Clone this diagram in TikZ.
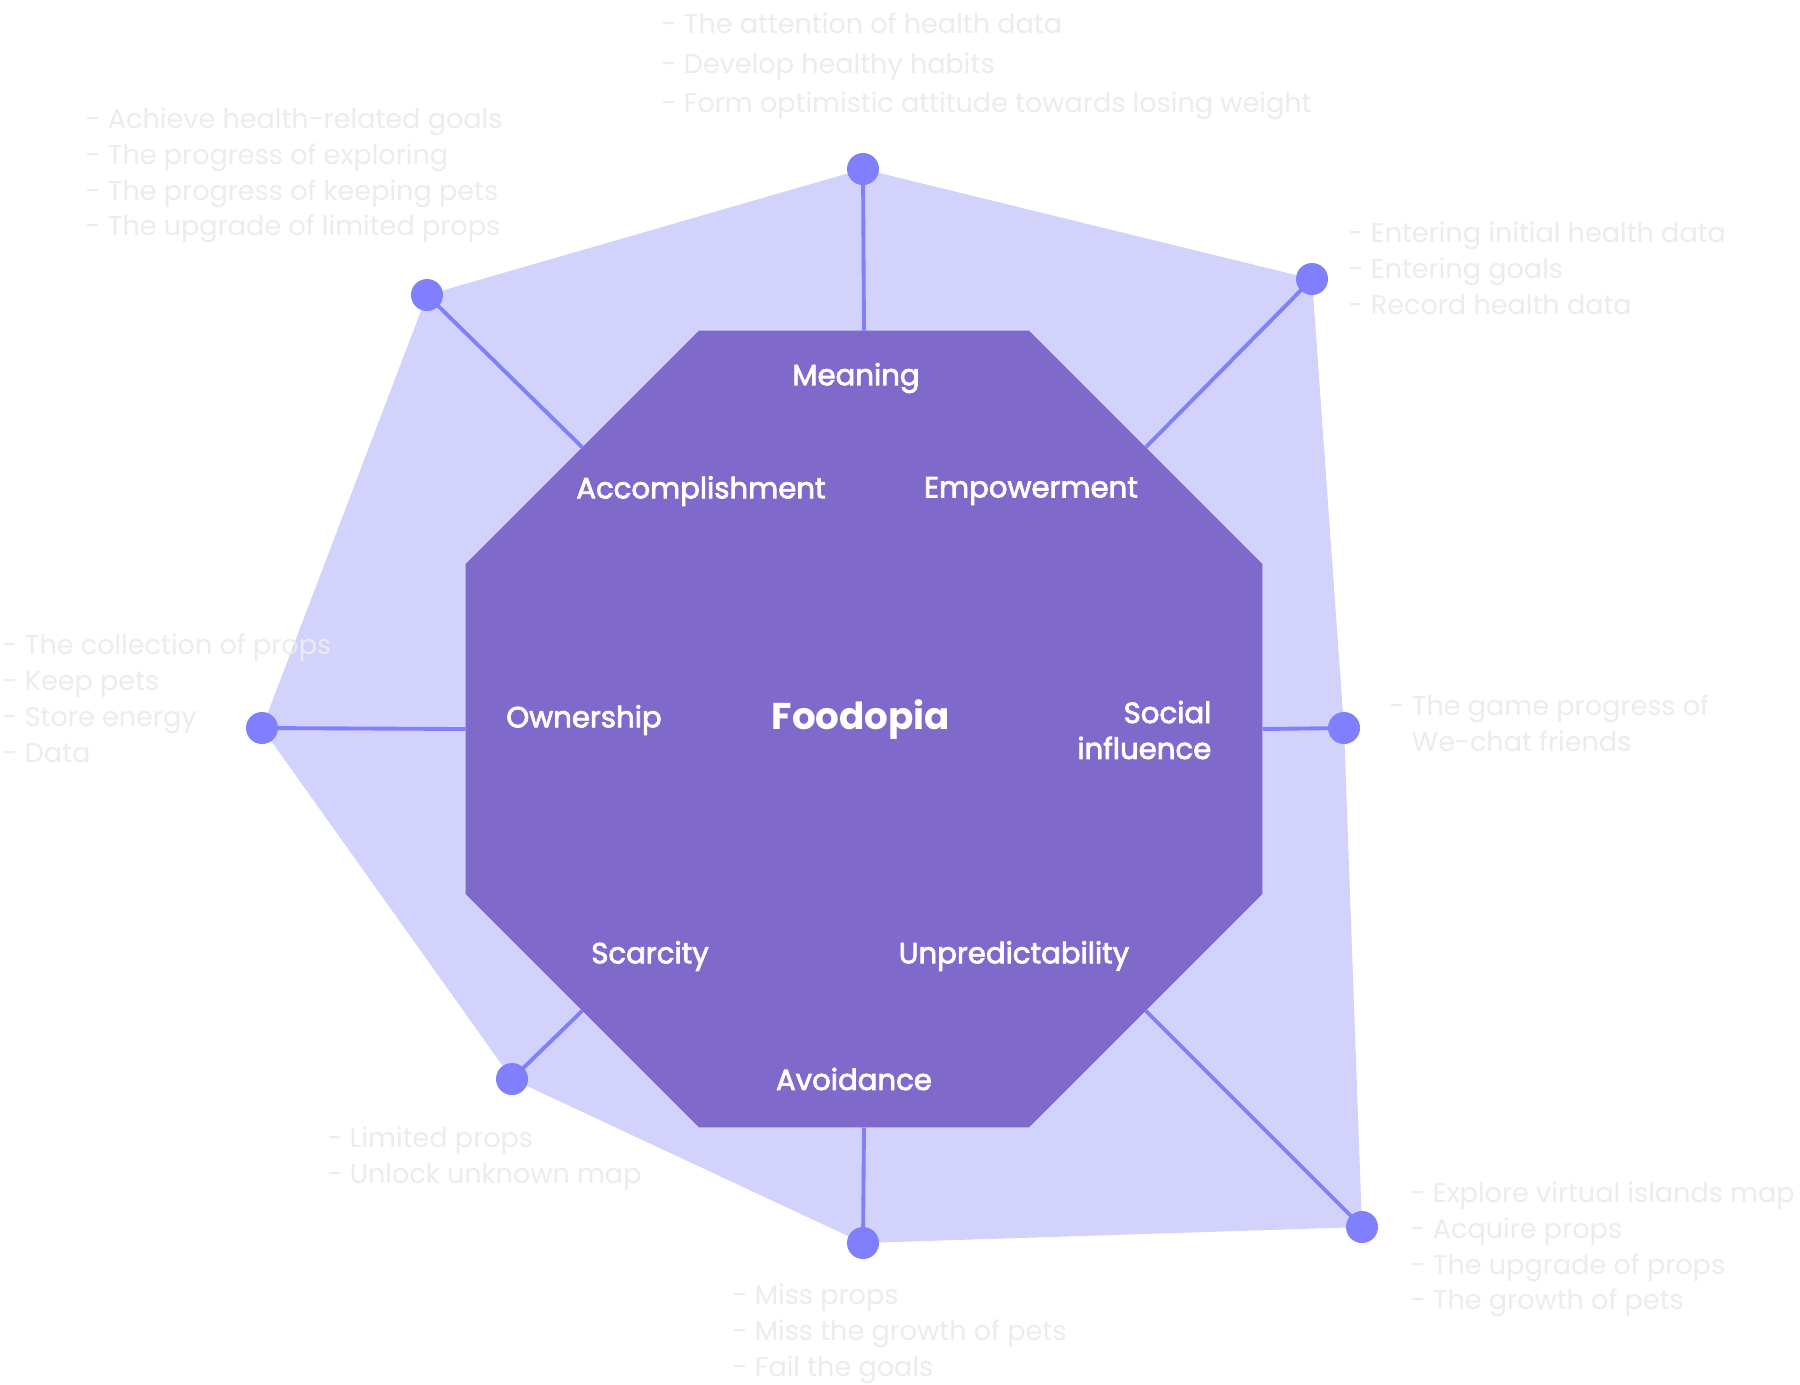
\documentclass[tikz,border=0pt]{standalone}
\usepackage{fontspec}
\setmainfont{Poppins}
\newfontfamily\factorfont{Poppins}[FakeBold=2.6]
\usetikzlibrary{shapes.geometric}
\definecolor{octpurple}{RGB}{127,105,203}
\definecolor{rimlilac}{RGB}{210,210,253}
\definecolor{dotblue}{RGB}{128,128,255}
\definecolor{notegray}{RGB}{236,236,238}

\tikzset{
  tipdot/.style={circle, fill=dotblue, inner sep=0pt, minimum size=0.32cm},
  spoke/.style={dotblue, line width=1.1pt},
  octagon/.style={regular polygon, regular polygon sides=8, fill=octpurple,
    inner sep=0pt, outer sep=0pt, minimum size=8.62cm},
  factor/.style={text=white, font=\factorfont\fontsize{8.3}{10.2}\selectfont, inner sep=0pt},
  note/.style={text=notegray, font=\fontsize{7.7}{10.2}\selectfont, align=left,
    anchor=north west, inner sep=0pt},
}

\begin{document}
\begin{tikzpicture}[x=0.01cm, y=-0.01cm]
  \fill[white] (0,0) rectangle (1800,1384);
  \useasboundingbox (0,0) rectangle (1800,1384);

  % where the eight dots sit
  \coordinate (pT)  at (863,169);
  \coordinate (pTR) at (1312,279);
  \coordinate (pR)  at (1344,728);
  \coordinate (pBR) at (1362,1227);
  \coordinate (pB)  at (863,1243);
  \coordinate (pBL) at (512,1079);
  \coordinate (pL)  at (262,728);
  \coordinate (pTL) at (427,295);

  % light area through the dots
  \fill[rimlilac] (pT) -- (pTR) -- (pR) -- (pBR) -- (pB) -- (pBL) -- (pL) -- (pTL) -- cycle;

  % the octagon
  \node[octagon] (oct) at (864,729) {};

  % spokes
  \draw[spoke] (pT)  -- (oct.90);
  \draw[spoke] (pTR) -- (oct.45);
  \draw[spoke] (pR)  -- (oct.0);
  \draw[spoke] (pBR) -- (oct.-45);
  \draw[spoke] (pB)  -- (oct.-90);
  \draw[spoke] (pBL) -- (oct.-135);
  \draw[spoke] (pL)  -- (oct.180);
  \draw[spoke] (pTL) -- (oct.135);

  \foreach \p in {T,TR,R,BR,B,BL,L,TL}
    \node[tipdot] (d\p) at (p\p) {};

  % drives inside the octagon
  \node[factor] (fMeaning) at (856,378) {Meaning};
  \node[factor] (fAccomp) at (701,491) {Accomplishment};
  \node[factor] (fEmpower) at (1031,491) {Empowerment};
  \node[factor] (fOwner) at (584,720) {Ownership};
  \node[factor, font=\fontsize{10.6}{12}\selectfont\bfseries] (core) at (861,720) {Foodopia};
  \node[factor, align=right, anchor=east] (fSocial) at (1212,730) {Social\\influence};
  \node[factor] (fScarce) at (650,956) {Scarcity};
  \node[factor] (fUnpred) at (1014,956) {Unpredictability};
  \node[factor] (fAvoid) at (854,1079) {Avoidance};

  % notes around the outside
  \node[note, font=\fontsize{7.7}{11.3}\selectfont] (nT) at (661,12)
    {- The attention of health data\\- Develop healthy habits\\- Form optimistic attitude towards losing weight};
  \node[note] (nTL) at (85,107)
    {- Achieve health-related goals\\- The progress of exploring\\- The progress of keeping pets\\- The upgrade of limited props};
  \node[note] (nTR) at (1348,221)
    {- Entering initial health data\\- Entering goals\\- Record health data};
  \node[note] (nL) at (2,633)
    {- The collection of props\\- Keep pets\\- Store energy\\- Data};
  \node[note] (nR) at (1389,694)
    {- The game progress of\\\phantom{- }We-chat friends};
  \node[note] (nBL) at (327,1126)
    {- Limited props\\- Unlock unknown map};
  \node[note] (nB) at (732,1283)
    {- Miss props\\- Miss the growth of pets\\- Fail the goals};
  \node[note] (nBR) at (1410,1181)
    {- Explore virtual islands map\\- Acquire props\\- The upgrade of props\\- The growth of pets};
\end{tikzpicture}
\end{document}
